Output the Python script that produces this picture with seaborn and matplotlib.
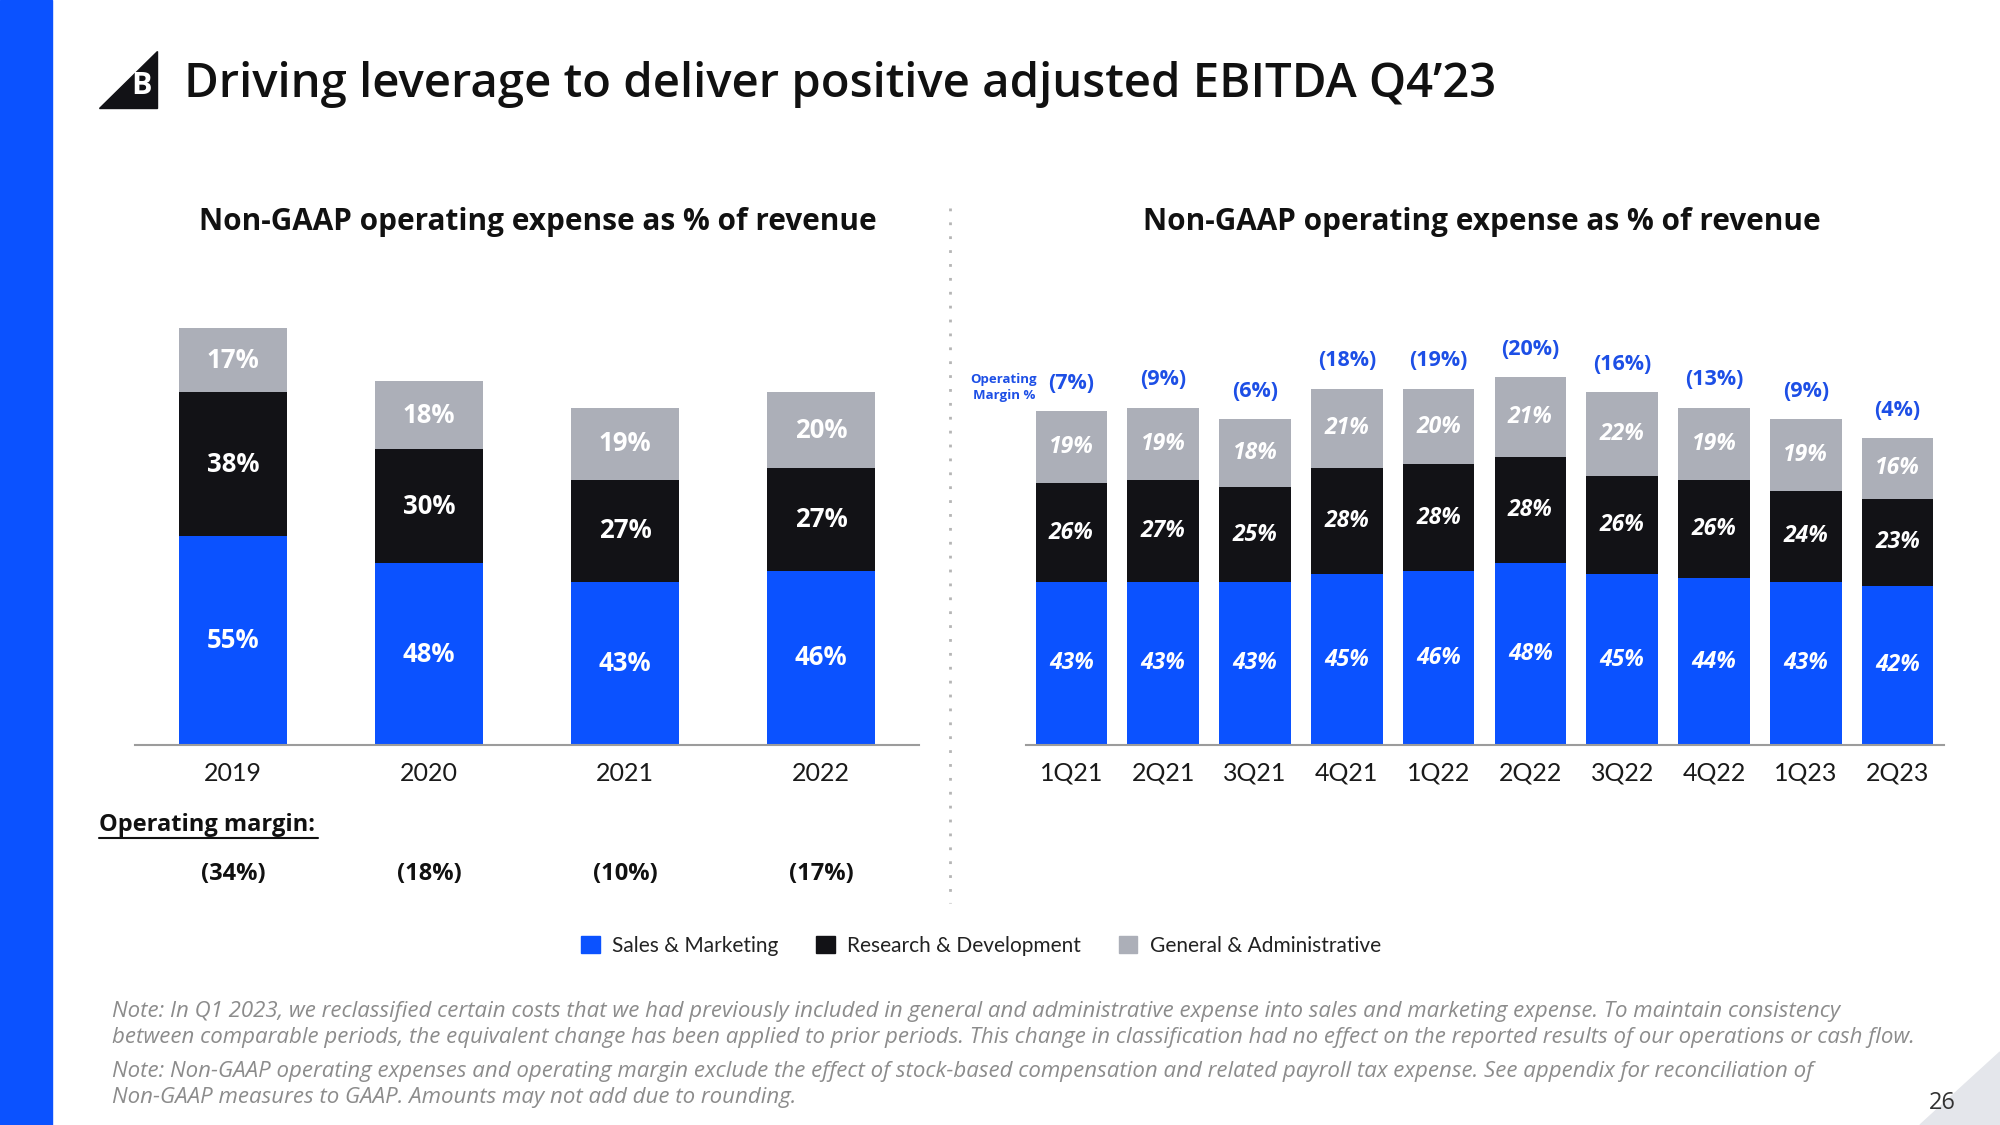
import numpy as np
import pandas as pd
import matplotlib.pyplot as plt
import seaborn as sns
from matplotlib.patches import Rectangle, Polygon, Patch
from matplotlib.lines import Line2D

# ---- data ----
years = ["2019", "2020", "2021", "2022"]
sales_mkt_year = [55, 48, 43, 46]
rnd_year = [38, 30, 27, 27]
gna_year = [17, 18, 19, 20]
op_margin_year = ["(34%)", "(18%)", "(10%)", "(17%)"]

quarters = ["1Q21", "2Q21", "3Q21", "4Q21", "1Q22", "2Q22", "3Q22", "4Q22", "1Q23", "2Q23"]
sales_mkt_q = [43, 43, 43, 45, 46, 48, 45, 44, 43, 42]
rnd_q = [26, 27, 25, 28, 28, 28, 26, 26, 24, 23]
gna_q = [19, 19, 18, 21, 20, 21, 22, 19, 19, 16]
op_margin_q = [-7, -9, -6, -18, -19, -20, -16, -13, -9, -4]

BLUE = "#0b52ff"
BLACK = "#121216"
GRAY = "#acafb8"
MARGIN_BLUE = "#1d4fe6"

W, H = 2000, 1125

sns.set_theme(style="white")
plt.rcParams["font.family"] = ["Open Sans", "DejaVu Sans"]
TICK_FONT = ["Lato", "DejaVu Sans"]


def fx(x):
    return x / W


def fy(y):
    return 1 - y / H


def stacked(ax, labels, sm, rd, ga, width, italic):
    df = pd.DataFrame({"period": labels, "sm": sm, "rd": rd, "ga": ga})
    df["sm_rd"] = df["sm"] + df["rd"]
    df["total"] = df["sm_rd"] + df["ga"]
    # draw cumulative totals back to front so the bars look stacked
    for col, c in [("total", GRAY), ("sm_rd", BLACK), ("sm", BLUE)]:
        sns.barplot(data=df, x="period", y=col, color=c, width=width,
                    saturation=1, errorbar=None, linewidth=0, ax=ax)
    style = "italic" if italic else "normal"
    fs = 16.5 if italic else 18.5
    for i, row in df.iterrows():
        for lo, val, hi in [(0, row["sm"], row["sm"]),
                            (row["sm"], row["rd"], row["sm_rd"]),
                            (row["sm_rd"], row["ga"], row["total"])]:
            ax.text(i, (lo + hi) / 2, f"{val}%", ha="center", va="center",
                    color="white", fontsize=fs, fontweight="bold", fontstyle=style)
    ax.set_ylim(0, 120)
    ax.set_xlim(-0.5, len(labels) - 0.5)
    ax.set_xlabel("")
    ax.set_ylabel("")
    ax.set_yticks([])
    for s in ["top", "right", "left"]:
        ax.spines[s].set_visible(False)
    ax.spines["bottom"].set_color("#9c9c9c")
    ax.spines["bottom"].set_linewidth(1.5)
    ax.tick_params(axis="x", length=0, pad=12, labelsize=18, labelcolor="#1a1a1a")
    for t in ax.get_xticklabels():
        t.set_family(TICK_FONT)
    return df


fig = plt.figure(figsize=(20, 11.25), dpi=100)
fig.patch.set_facecolor("white")

# blue stripe on the left
fig.patches.append(Rectangle((0, 0), fx(52), 1, transform=fig.transFigure,
                             color=BLUE, zorder=0))
# corner shading and page number
fig.patches.append(Polygon([(fx(1920), 0), (1, fy(1052)), (1, 0)], closed=True,
                           transform=fig.transFigure, color="#e4e6eb", zorder=0))
fig.text(fx(1942), fy(1103), "26", ha="center", va="center", fontsize=17, color="#333333")

# logo + title
fig.patches.append(Polygon([(fx(99), fy(108)), (fx(157), fy(108)), (fx(157), fy(51))],
                           closed=True, transform=fig.transFigure, color=BLACK))
fig.text(fx(141), fy(86), "B", ha="center", va="center", fontsize=22,
         fontweight="bold", color="white")
fig.text(fx(184), fy(84), "Driving leverage to deliver positive adjusted EBITDA Q4\u201923",
         ha="left", va="center", fontsize=34, fontweight="semibold", color="#111111")

# left chart
ax1 = fig.add_axes([fx(135), fy(745), fx(784), 455 / H])
stacked(ax1, years, sales_mkt_year, rnd_year, gna_year, 0.55, italic=False)
fig.text(fx(538), fy(222), "Non-GAAP operating expense as % of revenue",
         ha="center", va="center", fontsize=21.4, fontweight="bold", color="#111111")
for i, m in enumerate(op_margin_year):
    ax1.text(i, -0.2835, m, transform=ax1.get_xaxis_transform(), ha="center",
             va="center", fontsize=17, fontweight="bold", color="#111111")
fig.text(fx(99), fy(825), "Operating margin:", ha="left", va="center",
         fontsize=17, fontweight="bold", color="#111111")
fig.add_artist(Line2D([fx(99), fx(318)], [fy(838), fy(838)], color="#111111",
                      lw=1.5, transform=fig.transFigure))

# right chart
ax2 = fig.add_axes([fx(1025.5), fy(745), fx(918), 455 / H])
dfq = stacked(ax2, quarters, sales_mkt_q, rnd_q, gna_q, 0.78, italic=True)
fig.text(fx(1482), fy(222), "Non-GAAP operating expense as % of revenue",
         ha="center", va="center", fontsize=21.4, fontweight="bold", color="#111111")
for i, m in enumerate(op_margin_q):
    ax2.annotate(f"({abs(m)}%)", (i, dfq["total"][i]), xytext=(0, 20),
                 textcoords="offset points", ha="center", va="center",
                 fontsize=15.5, fontweight="bold", color=MARGIN_BLUE)
fig.text(fx(1004), fy(387), "Operating\nMargin %", ha="center", va="center",
         fontsize=9.5, fontweight="bold", color=MARGIN_BLUE, linespacing=1.3)

# dotted separator
fig.add_artist(Line2D([fx(950), fx(950)], [fy(208), fy(903)], color="#b5b5b5",
                      lw=2, linestyle=(0, (1, 4)), transform=fig.transFigure))

# legend
handles = [Patch(color=BLUE, label="Sales & Marketing"),
           Patch(color=BLACK, label="Research & Development"),
           Patch(color=GRAY, label="General & Administrative")]
fig.legend(handles=handles, loc="center", bbox_to_anchor=(fx(981), fy(946)), ncol=3,
           frameon=False, handlelength=0.9, handleheight=0.9,
           handletextpad=0.6, columnspacing=1.8, labelcolor="#222222",
           prop={"family": TICK_FONT, "size": 15})

# notes
notes = [
    (1011, "Note: In Q1 2023, we reclassified certain costs that we had previously included in general and administrative expense into sales and marketing expense. To maintain consistency"),
    (1038, "between comparable periods, the equivalent change has been applied to prior periods. This change in classification had no effect on the reported results of our operations or cash flow."),
    (1071, "Note: Non-GAAP operating expenses and operating margin exclude the effect of stock-based compensation and related payroll tax expense. See appendix for reconciliation of"),
    (1098, "Non-GAAP measures to GAAP. Amounts may not add due to rounding."),
]
for y, t in notes:
    fig.text(fx(112), fy(y), t, ha="left", va="center", fontsize=16,
             fontstyle="italic", color="#8c8c8c")

fig.savefig("out.png", dpi=100, facecolor="white")
